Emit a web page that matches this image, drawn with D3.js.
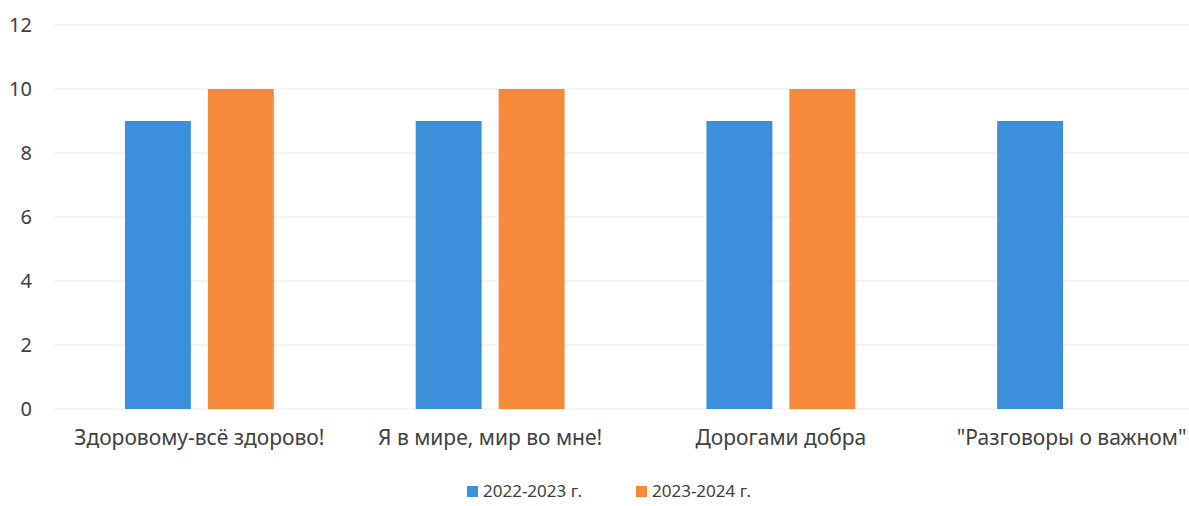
<!DOCTYPE html>
<html>
<head>
<meta charset="utf-8">
<script src="https://cdn.jsdelivr.net/npm/d3@7"></script>
<style>
  body { margin: 0; background: #fff; }
  text { font-family: "Noto Sans", "Open Sans", sans-serif; fill: #404040; }
</style>
</head>
<body>
<div id="chart"></div>
<script>
const categories = ["Здоровому-всё здорово!", "Я в мире, мир во мне!", "Дорогами добра", "\"Разговоры о важном\""];
const seriesNames = ["2022-2023 г.", "2023-2024 г."];
const values2022 = [9, 9, 9, 9];
const values2023 = [10, 10, 10, null];
const yTicks = [0, 2, 4, 6, 8, 10, 12];
const colors = ["#3b8fdb", "#f7893a"];

function drawChart() {
    const width = 1189;
    const height = 506;

    const svg = d3.select("#chart")
        .append("svg")
        .attr("width", width)
        .attr("height", height);

    const x0 = d3.scaleBand()
        .domain(categories)
        .range([54, 1217])
        .paddingInner(0.488)
        .paddingOuter(0.244);

    const x1 = d3.scaleBand()
        .domain(seriesNames)
        .range([0, x0.bandwidth()])
        .paddingInner(0.205);

    const y = d3.scaleLinear()
        .domain([0, 12])
        .range([409, 25]);

    // grid lines
    svg.append("g")
        .selectAll("line")
        .data(yTicks)
        .enter().append("line")
        .attr("x1", 54)
        .attr("x2", width)
        .attr("y1", d => y(d))
        .attr("y2", d => y(d))
        .attr("stroke", "#ececec")
        .attr("stroke-width", 1);

    // y axis labels
    const yAxis = svg.append("g")
        .attr("transform", "translate(32,0)")
        .call(d3.axisLeft(y).tickValues(yTicks).tickSize(0).tickPadding(0));
    yAxis.select(".domain").remove();
    yAxis.selectAll("text")
        .style("font-size", "20px")
        .attr("fill", "#404040");

    const rows = categories.map((c, i) => ({ cat: c, vals: [values2022[i], values2023[i]] }));

    const groups = svg.append("g")
        .selectAll("g")
        .data(rows)
        .enter().append("g")
        .attr("transform", d => `translate(${x0(d.cat)},0)`);

    groups.selectAll("rect")
        .data(d => d.vals.map((v, j) => ({ name: seriesNames[j], value: v, color: colors[j] })).filter(e => e.value != null))
        .enter().append("rect")
        .attr("x", d => x1(d.name))
        .attr("y", d => y(d.value))
        .attr("width", x1.bandwidth())
        .attr("height", d => y(0) - y(d.value))
        .attr("fill", d => d.color);

    // category labels
    const xAxis = svg.append("g")
        .attr("transform", `translate(0, 430)`)
        .call(d3.axisBottom(x0).tickSize(0).tickPadding(0));
    xAxis.select(".domain").remove();
    xAxis.selectAll("text")
        .style("font-size", "21px")
        .attr("fill", "#404040");

    // legend
    const legendItems = [
        { name: seriesNames[0], color: colors[0], x: 467 },
        { name: seriesNames[1], color: colors[1], x: 636 }
    ];
    const legend = svg.append("g")
        .selectAll("g")
        .data(legendItems)
        .enter().append("g")
        .attr("transform", d => `translate(${d.x},486)`);
    legend.append("rect")
        .attr("width", 11)
        .attr("height", 11)
        .attr("fill", d => d.color);
    legend.append("text")
        .attr("x", 16)
        .attr("y", 11)
        .style("font-size", "17px")
        .text(d => d.name);
}

drawChart();
</script>
</body>
</html>
